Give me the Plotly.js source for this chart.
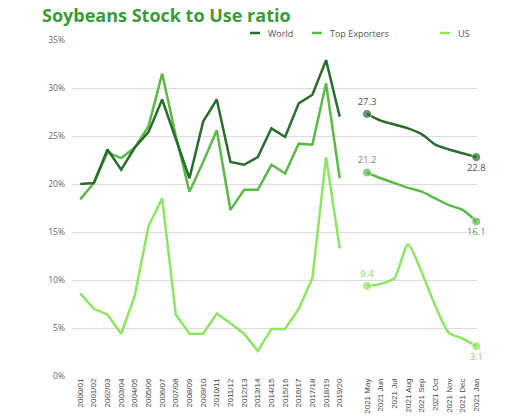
<!DOCTYPE html>
<html>
<head>
<meta charset="utf-8">
<script src="https://cdn.plot.ly/plotly-3.0.1.min.js"></script>
<style>
html,body{margin:0;padding:0;background:#fff;}
#chart{width:507px;height:420px;}
</style>
</head>
<body>
<div id="chart"></div>
<script>
// ---- data ----
const seasons = ["2000/01","2001/02","2002/03","2003/04","2004/05","2005/06","2006/07","2007/08","2008/09","2009/10",
                 "2010/11","2011/12","2012/13","2013/14","2014/15","2015/16","2016/17","2017/18","2018/19","2019/20"];
const months = ["2021 May","2021 Jun","2021 Jul","2021 Aug","2021 Sep","2021 Oct","2021 Nov","2021 Dec","2021 Jan"];
const gapCategory = [" "];

const worldHist     = [20.0,20.1,23.6,21.5,23.8,25.4,28.8,24.6,20.6,26.5,28.8,22.3,22.0,22.8,25.8,24.9,28.4,29.3,32.9,27.0];
const exportersHist = [18.4,20.1,23.3,22.7,23.8,26.0,31.5,25.0,19.2,22.3,25.6,17.3,19.4,19.4,22.0,21.1,24.2,24.1,30.5,20.6];
const usHist        = [8.6,7.0,6.4,4.4,8.4,15.6,18.5,6.4,4.4,4.4,6.5,5.5,4.4,2.6,4.9,4.9,7.0,10.2,22.8,13.3];

const worldProj     = [27.3,26.6,26.2,25.8,25.2,24.1,23.6,23.2,22.8];
const exportersProj = [21.2,20.6,20.1,19.6,19.2,18.5,17.8,17.3,16.1];
const usProj        = [9.4,9.6,10.2,13.7,10.8,7.3,4.5,3.9,3.1];

const seriesNames = ["World","Top Exporters","US"];
const yTicks = [0,5,10,15,20,25,30,35];

// ---- styles ----
const colors = ["#2a6b2e","#5cb947","#8ee463"];
const labelColors = ["#555","#6a8f60","#8ad861"];
const legendX = [250, 312, 440];   // px positions of legend dashes

function endText(arr){ return arr.map((v,i)=> (i===0||i===arr.length-1) ? v.toFixed(1) : ""); }
function endSize(arr){ return arr.map((v,i)=> (i===0||i===arr.length-1) ? 9 : 0); }
function endPos(arr){ return arr.map((v,i)=> i===0 ? "top center" : "bottom center"); }

const hist = [worldHist, exportersHist, usHist];
const proj = [worldProj, exportersProj, usProj];
const traces = [];
[2,1,0].forEach(k=>{
  traces.push({
    x: seasons, y: hist[k], type:"scatter", mode:"lines",
    name: seriesNames[k], showlegend:false,
    line:{color:colors[k], width:2.5}
  });
  traces.push({
    x: months, y: proj[k], type:"scatter", mode:"lines+markers+text",
    name: seriesNames[k], showlegend:false,
    line:{color:colors[k], width:2.5, shape:"spline", smoothing:0.7},
    marker:{color:colors[k], size:endSize(proj[k])},
    text:endText(proj[k]), textposition:endPos(proj[k]),
    textfont:{family:"Open Sans, sans-serif", size:9.5, color:labelColors[k]},
    cliponaxis:false
  });
});

// custom legend (short dashes like the reference)
const W = 507, H = 420, legY = 1 - 33/H;
const shapes = [], annotations = [];
seriesNames.forEach((n,k)=>{
  shapes.push({type:"line", xref:"paper", yref:"paper",
    x0:(legendX[k]-72)/405, x1:(legendX[k]+10-72)/405,
    y0:(376-33)/336, y1:(376-33)/336,
    line:{color:colors[k], width:2.5}});
  annotations.push({xref:"paper", yref:"paper",
    x:(legendX[k]+16-72)/405, y:(376-33)/336, xanchor:"left", yanchor:"middle",
    text:n, showarrow:false,
    font:{family:"Open Sans, sans-serif", size:9, color:"#555"}});
});

const layout = {
  width:W, height:H,
  paper_bgcolor:"#fff", plot_bgcolor:"rgba(0,0,0,0)",
  margin:{l:72, r:30, t:40, b:44},
  title:{
    text:"<b>Soybeans Stock to Use ratio</b>",
    font:{family:"Open Sans, sans-serif", size:18, color:"#3a9a3c"},
    xref:"container", yref:"container", x:42/W, xanchor:"left", y:1-16/H, yanchor:"middle"
  },
  showlegend:false,
  shapes: shapes,
  annotations: annotations,
  xaxis:{
    type:"category",
    categoryorder:"array",
    categoryarray: seasons.concat(gapCategory, months),
    range:[-0.6, 29.05],
    tickangle:-90,
    tickfont:{family:"Liberation Sans, Arial, sans-serif", size:8, color:"#444"},
    showgrid:false, zeroline:false, showline:false, ticks:""
  },
  yaxis:{
    range:[0,35],
    tickvals: yTicks,
    ticktext: yTicks.map(v=>v+"%"),
    tickfont:{family:"Open Sans, sans-serif", size:8.5, color:"#666"},
    showgrid:true, gridcolor:"#dcdcdc", gridwidth:1,
    zeroline:false, showline:false, ticks:"",
    ticklabelstandoff:6
  }
};

Plotly.newPlot("chart", traces, layout, {displayModeBar:false, staticPlot:true});
</script>
</body>
</html>
